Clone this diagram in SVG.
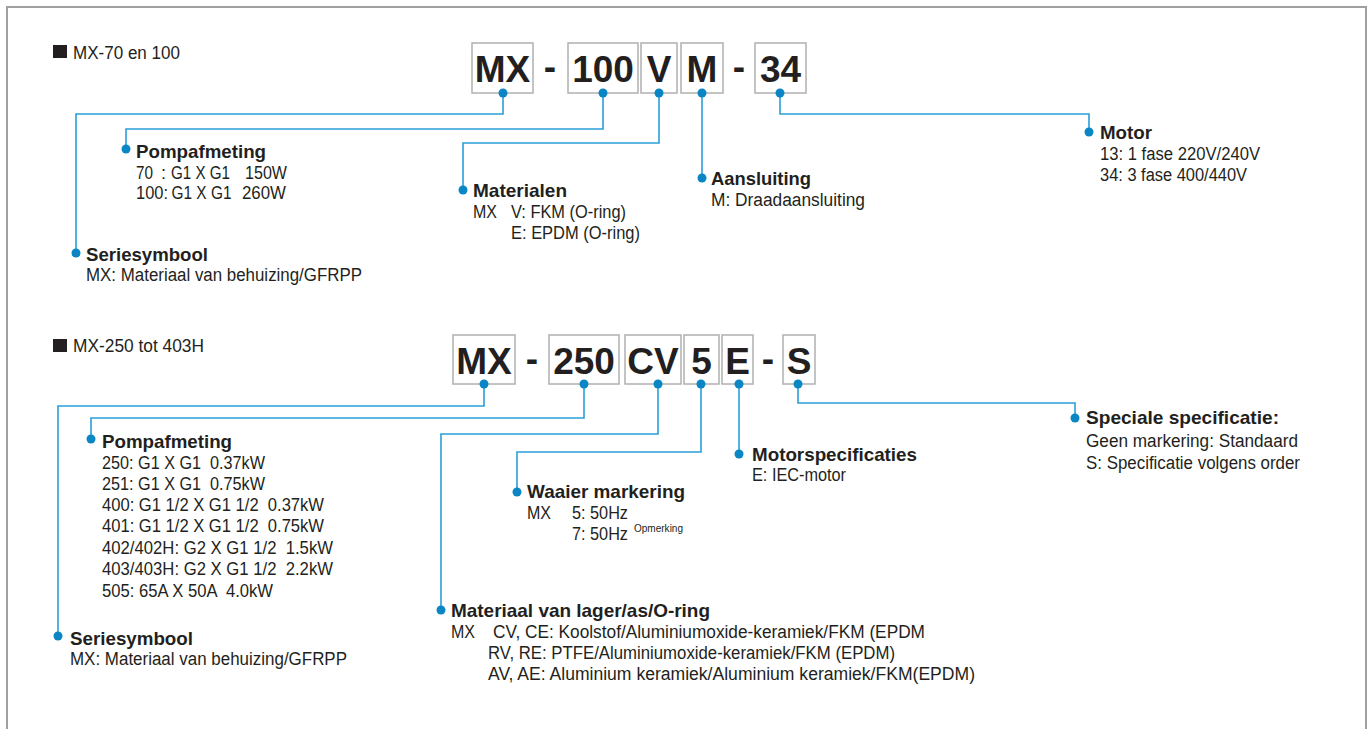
<svg xmlns="http://www.w3.org/2000/svg" width="1371" height="729" viewBox="0 0 1371 729">
<style>
.frame{fill:none;stroke:#a0a0a0;stroke-width:2}
.box{fill:#fff;stroke:#b0b0b0;stroke-width:1.5}
.code{font-family:"Liberation Sans",Arial,sans-serif;font-weight:bold;font-size:37px;fill:#231f20;text-anchor:middle}
.conn{fill:none;stroke:#2a9fd8;stroke-width:1.6}
.dot{fill:#0a86c5}
.h{font-family:"Liberation Sans",Arial,sans-serif;font-weight:bold;font-size:19px;fill:#231f20}
.t{font-family:"Liberation Sans",Arial,sans-serif;font-size:18px;fill:#231f20;white-space:pre}
.sup{font-family:"Liberation Sans",Arial,sans-serif;font-size:10px;fill:#231f20}
.sq{fill:#231f20}
</style>
<rect class="frame" x="7" y="7" width="1359" height="780"/>

<!-- Section 1 -->
<g id="title1">
<rect class="sq" x="53" y="45" width="14" height="13"/>
<text class="t" x="73" y="59" textLength="107" lengthAdjust="spacingAndGlyphs">MX-70 en 100</text>
</g>
<g id="code1">
<rect class="box" x="472" y="43" width="61" height="50"/>
<text class="code" x="502.5" y="81.5">MX</text>
<text class="code" x="550" y="79">-</text>
<rect class="box" x="568" y="43" width="70" height="50"/>
<text class="code" x="603" y="81.5">100</text>
<rect class="box" x="641" y="43" width="36" height="50"/>
<text class="code" x="659" y="81.5">V</text>
<rect class="box" x="681" y="43" width="42" height="50"/>
<text class="code" x="702" y="81.5">M</text>
<text class="code" x="739" y="79">-</text>
<rect class="box" x="755" y="43" width="51" height="50"/>
<text class="code" x="780.5" y="81.5">34</text>
</g>

<g id="connectors1">
<path class="conn" d="M503 93V114H76V253"/>
<path class="conn" d="M603 93V129H126V149"/>
<path class="conn" d="M659 93V143H463V190"/>
<path class="conn" d="M702 93V178"/>
<path class="conn" d="M780 93V114H1089V132"/>
<circle class="dot" cx="503" cy="93" r="4.5"/>
<circle class="dot" cx="603" cy="93" r="4.5"/>
<circle class="dot" cx="659" cy="93" r="4.5"/>
<circle class="dot" cx="702" cy="93" r="4.5"/>
<circle class="dot" cx="780" cy="93" r="4.5"/>
<circle class="dot" cx="76" cy="253" r="4.5"/>
<circle class="dot" cx="126" cy="149" r="4.5"/>
<circle class="dot" cx="463" cy="190" r="4.5"/>
<circle class="dot" cx="702" cy="178" r="4.5"/>
<circle class="dot" cx="1089" cy="132" r="4.5"/>
</g>

<g id="pompafmeting1">
<text class="h" x="136" y="158" textLength="130" lengthAdjust="spacingAndGlyphs">Pompafmeting</text>
<text class="t" x="136" y="178.5" textLength="17" lengthAdjust="spacingAndGlyphs">70</text>
<text class="t" x="161" y="178.5">:</text>
<text class="t" x="171" y="178.5" textLength="59" lengthAdjust="spacingAndGlyphs">G1 X G1</text>
<text class="t" x="245" y="178.5" textLength="42" lengthAdjust="spacingAndGlyphs">150W</text>
<text class="t" x="136" y="199" textLength="32" lengthAdjust="spacingAndGlyphs">100:</text>
<text class="t" x="171.5" y="199" textLength="60" lengthAdjust="spacingAndGlyphs">G1 X G1</text>
<text class="t" x="242" y="199" textLength="44" lengthAdjust="spacingAndGlyphs">260W</text>
</g>
<g id="seriesymbool1">
<text class="h" x="86" y="261" textLength="122" lengthAdjust="spacingAndGlyphs">Seriesymbool</text>
<text class="t" x="86" y="281" textLength="276" lengthAdjust="spacingAndGlyphs">MX: Materiaal van behuizing/GFRPP</text>
</g>
<g id="materialen1">
<text class="h" x="473" y="197" textLength="94" lengthAdjust="spacingAndGlyphs">Materialen</text>
<text class="t" x="473" y="218" textLength="24" lengthAdjust="spacingAndGlyphs">MX</text>
<text class="t" x="511" y="218" textLength="115" lengthAdjust="spacingAndGlyphs">V: FKM (O-ring)</text>
<text class="t" x="511" y="238.5" textLength="129" lengthAdjust="spacingAndGlyphs">E: EPDM (O-ring)</text>
</g>
<g id="aansluiting1">
<text class="h" x="711" y="185" textLength="100" lengthAdjust="spacingAndGlyphs">Aansluiting</text>
<text class="t" x="711" y="205.5" textLength="154" lengthAdjust="spacingAndGlyphs">M: Draadaansluiting</text>
</g>
<g id="motor1">
<text class="h" x="1100" y="138.5" textLength="52" lengthAdjust="spacingAndGlyphs">Motor</text>
<text class="t" x="1100" y="159.5" textLength="160" lengthAdjust="spacingAndGlyphs">13: 1 fase 220V/240V</text>
<text class="t" x="1100" y="181" textLength="147" lengthAdjust="spacingAndGlyphs">34: 3 fase 400/440V</text>
</g>

<!-- Section 2 -->
<g id="title2">
<rect class="sq" x="53" y="339" width="14" height="13"/>
<text class="t" x="73" y="352" textLength="131" lengthAdjust="spacingAndGlyphs">MX-250 tot 403H</text>
</g>
<g id="code2">
<rect class="box" x="453" y="335" width="62" height="49"/>
<text class="code" x="484" y="373.5">MX</text>
<text class="code" x="532" y="371">-</text>
<rect class="box" x="549" y="335" width="70" height="49"/>
<text class="code" x="584" y="373.5">250</text>
<rect class="box" x="625" y="335" width="56" height="49"/>
<text class="code" x="653" y="373.5">CV</text>
<rect class="box" x="684" y="335" width="35" height="49"/>
<text class="code" x="701.5" y="373.5">5</text>
<rect class="box" x="722" y="335" width="31" height="49"/>
<text class="code" x="737.5" y="373.5">E</text>
<text class="code" x="768" y="371">-</text>
<rect class="box" x="783" y="335" width="32" height="49"/>
<text class="code" x="799" y="373.5">S</text>
</g>

<g id="connectors2">
<path class="conn" d="M484 384V406H58V636"/>
<path class="conn" d="M584 384V418H91V439"/>
<path class="conn" d="M658 384V434H441V610"/>
<path class="conn" d="M701 384V452H517V492"/>
<path class="conn" d="M739 384V454"/>
<path class="conn" d="M798 384V403H1075V418"/>
<circle class="dot" cx="484" cy="384" r="4.5"/>
<circle class="dot" cx="584" cy="384" r="4.5"/>
<circle class="dot" cx="658" cy="384" r="4.5"/>
<circle class="dot" cx="701" cy="384" r="4.5"/>
<circle class="dot" cx="739" cy="384" r="4.5"/>
<circle class="dot" cx="798" cy="384" r="4.5"/>
<circle class="dot" cx="58" cy="636" r="4.5"/>
<circle class="dot" cx="91" cy="439" r="4.5"/>
<circle class="dot" cx="441" cy="610" r="4.5"/>
<circle class="dot" cx="517" cy="492" r="4.5"/>
<circle class="dot" cx="739" cy="454" r="4.5"/>
<circle class="dot" cx="1075" cy="418" r="4.5"/>
</g>

<g id="pompafmeting2">
<text class="h" x="102" y="447.5" textLength="130" lengthAdjust="spacingAndGlyphs">Pompafmeting</text>
<text class="t" x="102" y="468.5" textLength="163" lengthAdjust="spacingAndGlyphs">250: G1 X G1  0.37kW</text>
<text class="t" x="102" y="489.5" textLength="163" lengthAdjust="spacingAndGlyphs">251: G1 X G1  0.75kW</text>
<text class="t" x="102" y="511" textLength="222" lengthAdjust="spacingAndGlyphs">400: G1 1/2 X G1 1/2  0.37kW</text>
<text class="t" x="102" y="532" textLength="222" lengthAdjust="spacingAndGlyphs">401: G1 1/2 X G1 1/2  0.75kW</text>
<text class="t" x="102" y="553.5" textLength="231" lengthAdjust="spacingAndGlyphs">402/402H: G2 X G1 1/2  1.5kW</text>
<text class="t" x="102" y="575" textLength="231" lengthAdjust="spacingAndGlyphs">403/403H: G2 X G1 1/2  2.2kW</text>
<text class="t" x="102" y="596.5" textLength="171" lengthAdjust="spacingAndGlyphs">505: 65A X 50A  4.0kW</text>
</g>
<g id="seriesymbool2">
<text class="h" x="70" y="645" textLength="123" lengthAdjust="spacingAndGlyphs">Seriesymbool</text>
<text class="t" x="70" y="665" textLength="277" lengthAdjust="spacingAndGlyphs">MX: Materiaal van behuizing/GFRPP</text>
</g>
<g id="waaier2">
<text class="h" x="527" y="497.5" textLength="158" lengthAdjust="spacingAndGlyphs">Waaier markering</text>
<text class="t" x="527" y="519" textLength="24" lengthAdjust="spacingAndGlyphs">MX</text>
<text class="t" x="572" y="519" textLength="56" lengthAdjust="spacingAndGlyphs">5: 50Hz</text>
<text class="t" x="572" y="540" textLength="56" lengthAdjust="spacingAndGlyphs">7: 50Hz</text>
<text class="sup" x="634" y="532" textLength="49" lengthAdjust="spacingAndGlyphs">Opmerking</text>
</g>
<g id="motorspec2">
<text class="h" x="752" y="461" textLength="165" lengthAdjust="spacingAndGlyphs">Motorspecificaties</text>
<text class="t" x="752" y="480.5" textLength="94" lengthAdjust="spacingAndGlyphs">E: IEC-motor</text>
</g>
<g id="speciale2">
<text class="h" x="1086" y="424" textLength="193" lengthAdjust="spacingAndGlyphs">Speciale specificatie:</text>
<text class="t" x="1086" y="446.5" textLength="212" lengthAdjust="spacingAndGlyphs">Geen markering: Standaard</text>
<text class="t" x="1086" y="468.5" textLength="214" lengthAdjust="spacingAndGlyphs">S: Specificatie volgens order</text>
</g>
<g id="materiaal2">
<text class="h" x="451" y="617" textLength="259" lengthAdjust="spacingAndGlyphs">Materiaal van lager/as/O-ring</text>
<text class="t" x="451" y="638" textLength="24" lengthAdjust="spacingAndGlyphs">MX</text>
<text class="t" x="493" y="638" textLength="432" lengthAdjust="spacingAndGlyphs">CV, CE: Koolstof/Aluminiumoxide-keramiek/FKM (EPDM</text>
<text class="t" x="488" y="659" textLength="407" lengthAdjust="spacingAndGlyphs">RV, RE: PTFE/Aluminiumoxide-keramiek/FKM (EPDM)</text>
<text class="t" x="488" y="680" textLength="487" lengthAdjust="spacingAndGlyphs">AV, AE: Aluminium keramiek/Aluminium keramiek/FKM(EPDM)</text>
</g>
</svg>
